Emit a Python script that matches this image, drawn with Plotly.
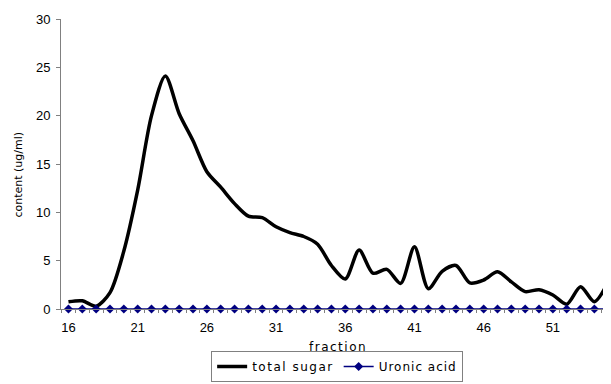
import plotly.graph_objects as go

fractions = list(range(16, 56))
total_sugar = [0.75, 0.85, 0.3, 1.7, 6.0, 12.3, 20.0, 24.1, 20.2, 17.4,
               14.2, 12.6, 10.9, 9.6, 9.45, 8.5, 7.9, 7.5, 6.7, 4.5,
               3.1, 6.1, 3.7, 4.1, 2.65, 6.45, 2.1, 3.9, 4.5, 2.7,
               3.0, 3.85, 2.8, 1.8, 2.0, 1.45, 0.5, 2.3, 0.75, 2.8]
uronic_acid = [0, 0, 0, 0, 0, 0, 0, 0, 0, 0,
               0, 0, 0, 0, 0, 0, 0, 0, 0, 0,
               0, 0, 0, 0, 0, 0, 0, 0, 0, 0,
               0, 0, 0, 0, 0, 0, 0, 0, 0, 0]
x_tick_labels = [16, 21, 26, 31, 36, 41, 46, 51]
y_ticks = [0, 5, 10, 15, 20, 25, 30]

FONT = "Liberation Sans, Arial, sans-serif"
WIDE = "DejaVu Sans, sans-serif"


def spaced(text, px):
    return '<span style="letter-spacing:%spx">%s</span>' % (px, text)


fig = go.Figure()
fig.add_trace(go.Scatter(
    x=fractions, y=total_sugar, name=spaced("total sugar", 1.5), mode="lines",
    line=dict(color="black", width=3.5, shape="spline", smoothing=0.8),
))
fig.add_trace(go.Scatter(
    x=fractions, y=uronic_acid, name=spaced("Uronic acid", 1.0),
    mode="lines+markers",
    line=dict(color="#000080", width=1.5),
    marker=dict(symbol="diamond", size=7, color="#000080"),
    cliponaxis=False,
))

# page body has an 8px margin, so the figure is drawn at (8, 8)
fig.update_layout(
    width=603, height=376,
    margin=dict(l=53, r=0, t=11, b=75, autoexpand=False),
    paper_bgcolor="white", plot_bgcolor="white",
    font=dict(family=FONT, size=12, color="black"),
    showlegend=True,
    legend=dict(
        orientation="h", x=0.273, y=-0.145, xanchor="left", yanchor="top",
        bordercolor="#808080", borderwidth=1, bgcolor="white",
        font=dict(family=WIDE, size=12), itemwidth=30,
        tracegroupgap=0,
    ),
    xaxis=dict(
        range=[15.46, 55.2], tickmode="array", tickvals=x_tick_labels,
        ticktext=[str(v) for v in x_tick_labels],
        showgrid=False, zeroline=False, showline=True, linecolor="#808080",
        linewidth=1, ticks="", ticklabelstandoff=6, automargin=False,
        tickfont=dict(family=FONT, size=13),
        minor=dict(tick0=15.5, dtick=1, ticks="outside", ticklen=3,
                   tickcolor="#808080", showgrid=False),
    ),
    yaxis=dict(
        range=[0, 30], tickmode="array", tickvals=y_ticks,
        showgrid=False, zeroline=False, showline=True, linecolor="#808080",
        linewidth=1, ticks="outside", ticklen=4, tickcolor="#808080",
        ticklabelstandoff=3, automargin=False,
        tickfont=dict(family=FONT, size=13),
    ),
    annotations=[
        dict(text="content (ug/ml)", xref="paper", yref="paper",
             x=-0.078, y=0.464, textangle=-90, showarrow=False,
             font=dict(family=WIDE, size=11), xanchor="center", yanchor="middle"),
        dict(text=spaced("fraction", 1.5), xref="paper", yref="paper",
             x=0.5045, y=-0.131, showarrow=False,
             font=dict(family=WIDE, size=12), xanchor="center", yanchor="middle"),
    ],
)

fig.write_html("out.html")
